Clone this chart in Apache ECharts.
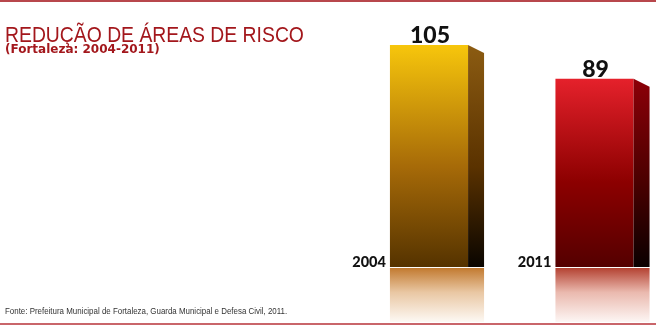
<!DOCTYPE html>
<html><head><meta charset="utf-8">
<style>html,body{margin:0;padding:0;background:#fff}#c{width:656px;height:326px}</style>
<script src="https://cdn.jsdelivr.net/npm/echarts@6/dist/echarts.min.js"></script>
</head><body><div id="c"></div>
<script>
const categories = ['2004', '2011'];
const values = [105, 89];
const titleText = 'REDUÇÃO DE ÁREAS DE RISCO';
const subtitleText = '(Fortaleza: 2004-2011)';
const sourceText = 'Fonte: Prefeitura Municipal de Fortaleza, Guarda Municipal e Defesa Civil, 2011.';

const palettes = [
  {front: ['#f7c60c', '#a66a08', '#553300'], side: ['#8c5c12', '#5a3200', '#0a0500'], refl: ['#c27a30', '#e9c7a3', '#fdf9f4']},
  {front: ['#e5212b', '#8c0000', '#540000'], side: ['#8c0008', '#4a0000', '#0a0000'], refl: ['#b44232', '#eab9ae', '#fdf6f4']}
];
const G = echarts.graphic;
function lg(stops, mid) {
  return new G.LinearGradient(0, 0, 0, 1, stops.map((col, i) => ({offset: [0, mid, 1][i], color: col})));
}
const chart = echarts.init(document.getElementById('c'), null, {renderer: 'canvas'});
const option = {
  animation: false,
  graphic: [
    {type: 'rect', shape: {x: 0, y: 0, width: 656, height: 2}, style: {fill: '#b8474c'}},
    {type: 'rect', shape: {x: 0, y: 323, width: 656, height: 2}, style: {fill: '#c9656a'}},
    {type: 'text', x: 5, y: 36.5, scaleX: 0.9, style: {text: titleText, verticalAlign: 'middle', font: 'normal 21.5px "Liberation Sans", Arial, sans-serif', fill: '#a3171c'}},
    {type: 'text', x: 5, y: 50, style: {text: subtitleText, verticalAlign: 'middle', font: 'bold 12px "DejaVu Sans", sans-serif', fill: '#a3171c'}},
    {type: 'text', x: 5, y: 311.5, scaleX: 0.834, style: {text: sourceText, verticalAlign: 'middle', font: 'normal 9.5px "Liberation Sans", Arial, sans-serif', fill: '#333'}}
  ],
  grid: {left: 346.25, right: 0, top: 34.43, height: 232.57},
  xAxis: {type: 'value', min: -0.5, max: -0.5 + 309.75 / 165.5, show: false},
  yAxis: {type: 'value', min: 0, max: 110, show: false},
  series: [{
    type: 'custom',
    data: values.map((v, i) => [i, v]),
    renderItem: function (params, api) {
      const i = api.value(0), v = api.value(1);
      const top = api.coord([i, v]);
      const base = api.coord([i, 0]);
      const unit = api.size([1, 0])[0];
      const w = unit * 0.472;
      const x0 = top[0] - w / 2, x1 = top[0] + w / 2;
      const dx = 16, dy = 8;
      const p = palettes[i];
      const h = base[1] - top[1];
      return {
        type: 'group',
        children: [
          {type: 'rect', shape: {x: x0, y: top[1], width: w, height: h}, style: {fill: lg(p.front, 0.55)}},
          {type: 'polygon', shape: {points: [[x1, top[1]], [x1 + dx, top[1] + dy], [x1 + dx, base[1]], [x1, base[1]]]}, style: {fill: lg(p.side, 0.55)}},
          {type: 'rect', shape: {x: x0, y: base[1] + 1, width: w + dx, height: 54}, style: {fill: lg(p.refl, 0.45)}},
          {type: 'text', style: {text: String(v), x: top[0] + 1, y: top[1] + 2, align: 'center', verticalAlign: 'bottom', font: '900 23px Lato, sans-serif', fill: '#111'}},
          {type: 'text', style: {text: categories[i], x: x0 - 4, y: base[1] + 2.5, align: 'right', verticalAlign: 'bottom', font: '900 14.5px Lato, sans-serif', fill: '#111'}}
        ]
      };
    }
  }]
};
chart.setOption(option);
</script></body></html>
